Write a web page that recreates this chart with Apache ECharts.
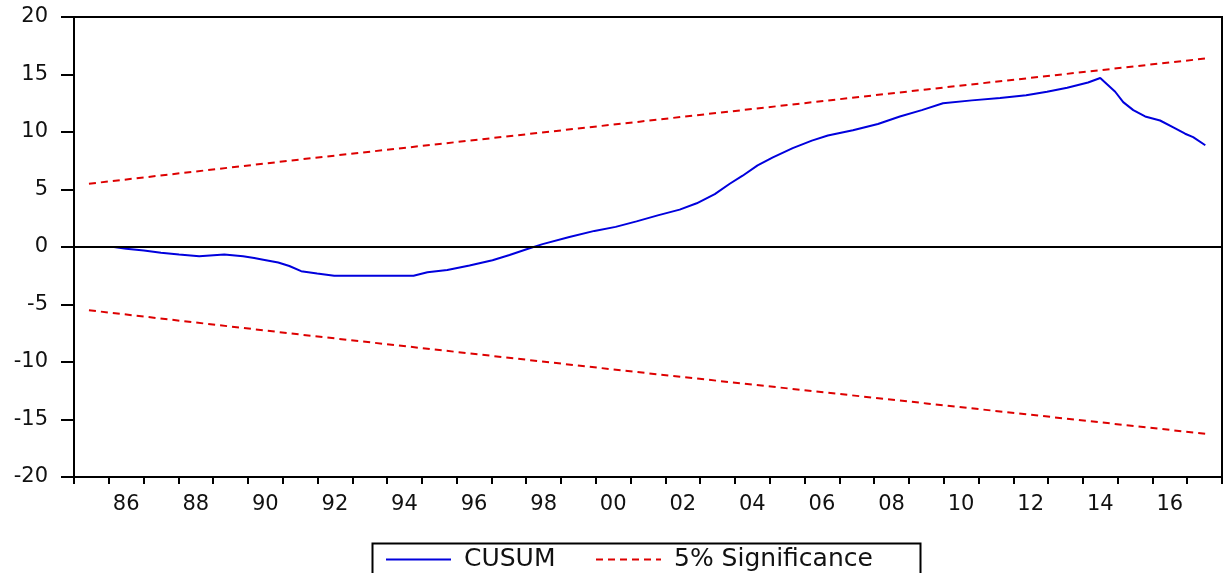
<!DOCTYPE html>
<html>
<head>
<meta charset="utf-8">
<script src="https://cdn.jsdelivr.net/npm/echarts@6/dist/echarts.min.js"></script>
<style>
html,body{margin:0;padding:0;background:#fff;}
#chart{width:1224px;height:573px;}
</style>
</head>
<body>
<div id="chart"></div>
<script>
// Year categories (bands) for the x-axis; labels shown every other year
const yearLabels = ["85","86","87","88","89","90","91","92","93","94","95","96","97","98","99","00","01","02","03","04","05","06","07","08","09","10","11","12","13","14","15","16","17"];

// CUSUM statistic (time in decimal years, value)
const cusumTime = [1985.43,1986.15,1986.50,1987.01,1987.50,1988.02,1988.60,1989.32,1989.86,1990.18,1990.44,1990.87,1991.19,1991.53,1991.99,1992.48,1993.20,1994.06,1994.76,1995.16,1995.73,1996.37,1997.03,1997.52,1998.01,1998.47,1999.24,1999.96,2000.57,2001.17,2001.78,2002.41,2002.90,2003.42,2003.85,2004.22,2004.65,2005.09,2005.66,2006.21,2006.67,2007.39,2008.11,2008.74,2009.37,2009.98,2010.81,2011.62,2012.37,2012.97,2013.55,2014.15,2014.50,2014.93,2015.16,2015.45,2015.79,2016.22,2016.60,2016.94,2017.17,2017.52];
const cusumValues = [0,0,-0.15,-0.3,-0.5,-0.65,-0.8,-0.65,-0.8,-0.95,-1.1,-1.35,-1.65,-2.1,-2.3,-2.5,-2.5,-2.5,-2.5,-2.2,-2.0,-1.6,-1.15,-0.7,-0.2,0.25,0.87,1.4,1.75,2.23,2.75,3.25,3.8,4.6,5.5,6.2,7.1,7.8,8.6,9.25,9.7,10.15,10.7,11.35,11.9,12.5,12.75,12.95,13.2,13.5,13.85,14.3,14.7,13.5,12.6,11.9,11.35,11.0,10.4,9.85,9.55,8.85];

// 5% significance bounds
const boundTime = [1985.43,1991.47,2001.26,2009.5,2017.55];
const upperValues = [5.5,7.6,10.9,13.7,16.4];
const lowerValues = [-5.5,-7.6,-10.9,-13.6,-16.25];

const yTicks = {min:-20, max:20, step:5};

const pair = (t, v) => t.map((x, i) => [x, v[i]]);

const chart = echarts.init(document.getElementById('chart'), null, {renderer:'canvas'});
const FONT = 'DejaVu Sans';
const legendCommon = {
  top:547, orient:'horizontal', padding:0,
  itemWidth:65, itemHeight:14, selectedMode:false,
  itemStyle:{opacity:0, borderWidth:0},
  textStyle:{fontFamily:FONT, fontSize:25, color:'#111', padding:[0,0,0,8]}
};
chart.setOption({
  animation:false,
  backgroundColor:'#fff',
  grid:{left:74, right:2, top:17, bottom:96, show:true, borderColor:'#000', borderWidth:2, backgroundColor:'transparent'},
  legend:[
    Object.assign({}, legendCommon, {left:385, data:['CUSUM']}),
    Object.assign({}, legendCommon, {left:595, data:['5% Significance']})
  ],
  graphic:[{
    type:'rect', left:370, top:541, silent:true,
    shape:{width:548, height:40},
    style:{fill:'none', stroke:'#000', lineWidth:2}
  }],
  xAxis:[
    {
      type:'category', data:yearLabels, boundaryGap:true, position:'bottom',
      axisLine:{show:true, onZero:false, lineStyle:{color:'#000', width:2}},
      axisTick:{show:true, interval:0, length:7, lineStyle:{color:'#000', width:2}},
      axisLabel:{interval:(i) => i % 2 === 1, margin:17, fontFamily:FONT, fontSize:21, color:'#111'},
      splitLine:{show:false}
    },
    {
      type:'value', min:1985, max:2018, show:false
    }
  ],
  yAxis:{
    type:'value', min:yTicks.min, max:yTicks.max, interval:yTicks.step,
    axisLine:{show:true, lineStyle:{color:'#000', width:2}},
    axisTick:{show:true, inside:false, length:13, lineStyle:{color:'#000', width:2}},
    axisLabel:{margin:26, fontFamily:FONT, fontSize:21, color:'#111'},
    splitLine:{show:false}
  },
  series:[
    {
      name:'CUSUM', type:'line', xAxisIndex:1, data:pair(cusumTime, cusumValues),
      symbol:'none', lineStyle:{color:'#0000dd', width:2}, itemStyle:{color:'#0000dd'},
      markLine:{silent:true, symbol:'none', label:{show:false},
        lineStyle:{color:'#000', width:2, type:'solid'}, data:[{yAxis:0}]}
    },
    {
      name:'5% Significance', type:'line', xAxisIndex:1, data:pair(boundTime, upperValues),
      symbol:'none', lineStyle:{color:'#dd0000', width:2, type:[7,5]}, itemStyle:{color:'#dd0000'}
    },
    {
      name:'5% Significance', type:'line', xAxisIndex:1, data:pair(boundTime, lowerValues),
      symbol:'none', lineStyle:{color:'#dd0000', width:2, type:[7,5]}, itemStyle:{color:'#dd0000'}
    }
  ]
});
</script>
</body>
</html>
